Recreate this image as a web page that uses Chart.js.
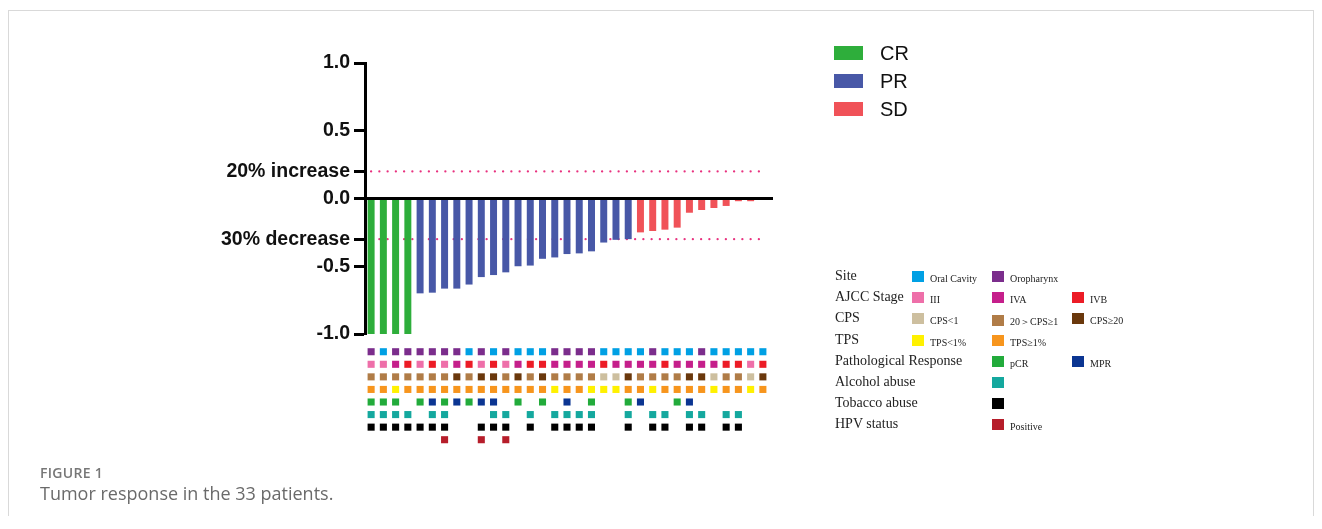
<!DOCTYPE html>
<html>
<head>
<meta charset="utf-8">
<title>Tumor response in the 33 patients</title>
<script src="https://cdn.jsdelivr.net/npm/chart.js@4.4.1/dist/chart.umd.min.js"></script>
<style>
  html, body { margin: 0; padding: 0; background: #fff; }
  body { width: 1322px; height: 529px; position: relative; overflow: hidden;
    font-family: 'Liberation Sans', Arial, sans-serif; }
  .frame { position: absolute; left: 8px; top: 10px; width: 1306px; height: 506px;
    border: 1px solid #d9d9d9; border-bottom: none; box-sizing: border-box; }
  #wf { position: absolute; left: 0; top: 0; }
  .resp-item { position: absolute; left: 834px; height: 28px; display: flex; align-items: center; }
  .resp-item i { display: block; width: 29px; height: 14px; margin-right: 17px; }
  .resp-item span { font-size: 20px; color: #111; }
  .trk-name { position: absolute; left: 835px; font-family: 'Liberation Serif', serif;
    font-size: 14px; color: #222; line-height: 14px; }
  .trk-item { position: absolute; display: flex; align-items: center; }
  .trk-item i { display: block; width: 12px; height: 11px; margin-right: 6px; }
  .trk-item span { font-family: 'Liberation Serif', serif; font-size: 10px; color: #222;
    position: relative; top: 2px; white-space: nowrap; }
  .fig-label { position: absolute; left: 40px; top: 463px; font-family: 'Open Sans', sans-serif;
    font-size: 14px; font-weight: 600; color: #777; letter-spacing: 0.3px; }
  .fig-caption { position: absolute; left: 40px; top: 481px; font-family: 'Open Sans', sans-serif;
    font-size: 18px; color: #6a6a6a; }
</style>
</head>
<body>
<div class="frame"></div>
<canvas id="wf" width="1322" height="529"></canvas>
<div id="legends"></div>
<div class="fig-label">FIGURE 1</div>
<div class="fig-caption">Tumor response in the 33 patients.</div>
<script>
// ---------- data ----------
const patients = ['1','2','3','4','5','6','7','8','9','10','11','12','13','14','15','16','17',
  '18','19','20','21','22','23','24','25','26','27','28','29','30','31','32','33'];

// best change of tumour size from baseline
const tumorChange = [-1.0, -1.0, -1.0, -1.0,
  -0.70, -0.695, -0.665, -0.665, -0.635, -0.58, -0.565, -0.545, -0.50, -0.495,
  -0.445, -0.435, -0.41, -0.405, -0.39, -0.325, -0.305, -0.30,
  -0.25, -0.24, -0.23, -0.215, -0.105, -0.085, -0.07, -0.055, -0.02, -0.02, 0];

const response = ['CR','CR','CR','CR',
  'PR','PR','PR','PR','PR','PR','PR','PR','PR','PR','PR','PR','PR','PR','PR','PR','PR','PR',
  'SD','SD','SD','SD','SD','SD','SD','SD','SD','SD','SD'];
const responseTypes = ['CR', 'PR', 'SD'];
const responseColors = ['#2eae3b', '#4858a7', '#f05258'];

const yTickValues = [1, 0.5, 0.2, 0, -0.3, -0.5, -1];
const yTickLabels = ['1.0', '0.5', '20% increase', '0.0', '30% decrease', '-0.5', '-1.0'];
const increaseCut = 0.2;
const decreaseCut = -0.3;

// annotation tracks, one code per patient
const site = ['OP','OC','OP','OP','OP','OP','OP','OP','OC','OP','OC','OP','OC','OC','OC','OP','OP',
  'OP','OP','OC','OC','OC','OC','OP','OC','OC','OC','OP','OC','OC','OC','OC','OC'];
const stage = ['III','III','IVA','IVB','III','IVB','III','IVA','IVB','III','IVB','III','IVA','IVB','IVB','IVA','IVA',
  'IVA','IVA','IVB','IVA','IVA','IVA','IVA','IVB','IVA','IVA','IVA','IVA','IVB','IVB','III','IVB'];
const cps = ['mid','mid','mid','mid','mid','mid','mid','high','mid','high','high','mid','high','mid','high','mid','mid',
  'mid','mid','low','low','high','mid','mid','mid','mid','high','high','low','mid','mid','low','high'];
const tps = ['pos','pos','neg','pos','pos','pos','pos','pos','pos','pos','pos','pos','pos','pos','pos','neg','pos',
  'pos','neg','neg','neg','pos','pos','neg','pos','pos','pos','pos','neg','pos','pos','neg','pos'];
const pathology = ['pCR','pCR','pCR','','pCR','MPR','pCR','MPR','pCR','MPR','MPR','','pCR','','pCR','','MPR',
  '','pCR','','','pCR','MPR','','','pCR','MPR','','','','','',''];
const alcohol = [1,1,1,1,0,1,1,0,0,0,1,1,0,1,0,1,1, 1,1,0,0,1,0,1,1,0,1,1,0,1,1,0,0];
const tobacco = [1,1,1,1,1,1,1,0,0,1,1,1,0,1,0,1,1, 1,1,0,0,1,0,1,1,0,1,1,0,1,1,0,0];
const hpv = [0,0,0,0,0,0,1,0,0,1,0,1,0,0,0,0,0, 0,0,0,0,0,0,0,0,0,0,0,0,0,0,0,0];

const tracks = [
  { name: 'Site', values: site, keys: ['OC','OP'], labels: ['Oral Cavity','Oropharynx'],
    colors: ['#00a0e4','#7b2d8c'], slots: [0, 1] },
  { name: 'AJCC Stage', values: stage, keys: ['III','IVA','IVB'], labels: ['III','IVA','IVB'],
    colors: ['#ee6fa9','#c51f8b','#ec1c26'], slots: [0, 1, 2] },
  { name: 'CPS', values: cps, keys: ['low','mid','high'], labels: ['CPS<1','20＞CPS≥1','CPS≥20'],
    colors: ['#cdbf9f','#b07c47','#6a380c'], slots: [0, 1, 2] },
  { name: 'TPS', values: tps, keys: ['neg','pos'], labels: ['TPS<1%','TPS≥1%'],
    colors: ['#fff100','#f7951d'], slots: [0, 1] },
  { name: 'Pathological Response', values: pathology, keys: ['pCR','MPR'], labels: ['pCR','MPR'],
    colors: ['#22ab3b','#0b3592'], slots: [1, 2] },
  { name: 'Alcohol abuse', values: alcohol, keys: [1], labels: [''], colors: ['#14a89e'], slots: [1] },
  { name: 'Tobacco abuse', values: tobacco, keys: [1], labels: [''], colors: ['#000000'], slots: [1] },
  { name: 'HPV status', values: hpv, keys: [1], labels: ['Positive'], colors: ['#b61d2a'], slots: [1] }
];

// ---------- legends (html) ----------
const legends = document.getElementById('legends');
responseTypes.forEach(function (r, i) {
  const d = document.createElement('div');
  d.className = 'resp-item';
  d.style.top = (39 + i * 28) + 'px';
  d.innerHTML = '<i style="background:' + responseColors[i] + '"></i><span>' + r + '</span>';
  legends.appendChild(d);
});
const slotX = [912, 992, 1072];
tracks.forEach(function (t, r) {
  const cy = 277 + r * 21.2;
  const n = document.createElement('div');
  n.className = 'trk-name';
  n.style.top = (cy - 8) + 'px';
  n.textContent = t.name;
  legends.appendChild(n);
  t.keys.forEach(function (k, j) {
    const d = document.createElement('div');
    d.className = 'trk-item';
    d.style.left = slotX[t.slots[j]] + 'px';
    d.style.top = (cy - 6) + 'px';
    d.innerHTML = '<i style="background:' + t.colors[j] + '"></i><span>' + t.labels[j] + '</span>';
    legends.appendChild(d);
  });
});

// ---------- chart ----------
Chart.defaults.font.family = "'Liberation Sans', Arial, sans-serif";

const datasets = [{
  type: 'bar',
  label: 'Change from baseline',
  data: tumorChange,
  yAxisID: 'y',
  backgroundColor: response.map(function (r) { return responseColors[responseTypes.indexOf(r)]; }),
  barPercentage: 0.57,
  categoryPercentage: 1.0,
  order: 2
}];
tracks.forEach(function (t, r) {
  t.keys.forEach(function (k, j) {
    datasets.push({
      type: 'scatter',
      label: t.name + ' ' + t.labels[j],
      yAxisID: 'yAnn',
      data: t.values.map(function (v) { return v === k ? r + 1 : null; }),
      backgroundColor: t.colors[j],
      borderWidth: 0,
      pointStyle: 'rect',
      pointRadius: 5,
      pointHoverRadius: 5,
      order: 1
    });
  });
});

const refLines = {
  id: 'refLines',
  beforeDatasetsDraw: function (chart) {
    const ctx = chart.ctx, x = chart.scales.x, y = chart.scales.y;
    const x0 = x.getPixelForValue(0);
    const x1 = x.getPixelForValue(patients.length - 1) + 4;
    ctx.save();
    ctx.strokeStyle = '#e8327f';
    ctx.lineWidth = 2.3;
    ctx.lineCap = 'round';
    ctx.setLineDash([0, 8.25]);
    [increaseCut, decreaseCut].forEach(function (v) {
      const py = y.getPixelForValue(v);
      ctx.beginPath();
      ctx.moveTo(x0, py);
      ctx.lineTo(x1, py);
      ctx.stroke();
    });
    ctx.restore();
  },
  afterDatasetsDraw: function (chart) {
    const ctx = chart.ctx, y = chart.scales.y, a = chart.chartArea;
    const py = y.getPixelForValue(0);
    ctx.save();
    ctx.strokeStyle = '#000';
    ctx.lineWidth = 3;
    ctx.beginPath();
    ctx.moveTo(a.left, py);
    ctx.lineTo(a.right + 4, py);
    ctx.stroke();
    ctx.restore();
  }
};

new Chart(document.getElementById('wf'), {
  type: 'bar',
  data: { labels: patients, datasets: datasets },
  options: {
    responsive: false,
    animation: false,
    layout: { padding: { left: 0, top: 63, right: 553, bottom: 83 } },
    plugins: { legend: { display: false }, tooltip: { enabled: false } },
    scales: {
      x: { type: 'category', display: false, offset: true, grid: { display: false } },
      y: {
        position: 'left', stack: 'left', stackWeight: 271, weight: 2,
        min: -1, max: 1,
        afterBuildTicks: function (s) { s.ticks = yTickValues.map(function (v) { return { value: v }; }); },
        afterFit: function (s) { s.width = 365; },
        border: { display: true, color: '#000', width: 3 },
        grid: { drawOnChartArea: false, drawTicks: true, tickLength: 11, tickWidth: 3, tickColor: '#000' },
        ticks: {
          autoSkip: false, padding: 4, color: '#111',
          font: { size: 19.5, weight: 'bold' },
          callback: function (v) { return yTickLabels[yTickValues.indexOf(v)]; }
        }
      },
      yAnn: {
        type: 'linear', position: 'left', stack: 'left', stackWeight: 112, weight: 1,
        min: -0.41, max: 8.5, reverse: true, display: false
      }
    }
  },
  plugins: [refLines]
});
</script>
</body>
</html>
